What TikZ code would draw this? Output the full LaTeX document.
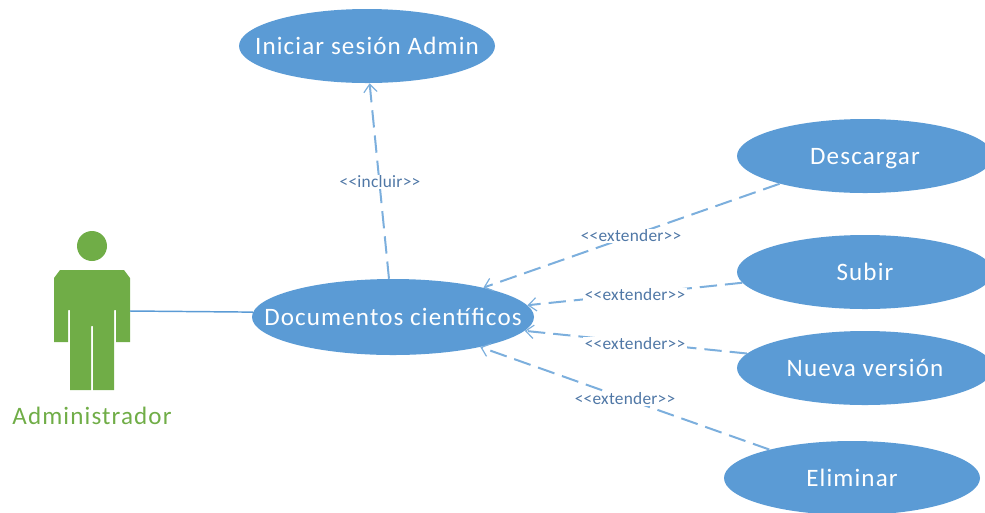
\documentclass[tikz,border=0pt]{standalone}
\usepackage{fontspec}
\setmainfont{Carlito}
\usetikzlibrary{shapes.geometric,arrows.meta}
\definecolor{ucblue}{HTML}{5B9BD5}
\definecolor{ucgreen}{HTML}{70AD47}
\definecolor{lblblue}{HTML}{4F77A6}
\newcommand{\uctext}[1]{\makebox[0pt]{\rule[-3.6pt]{0pt}{20.4pt}#1}}
\tikzset{
  usecase/.style={ellipse,fill=ucblue,text=white,inner sep=0pt,minimum width=192pt,minimum height=55.5pt,font=\fontsize{18.8}{20}\selectfont\addfontfeatures{LetterSpace=4.5}},
  stereo/.style={fill=white,text=lblblue,inner sep=1pt,font=\fontsize{13}{15}\selectfont\addfontfeatures{LetterSpace=1.5}},
  deplink/.style={draw=ucblue!80,line width=1.5pt,dash pattern=on 13pt off 6pt,-{Straight Barb[length=6pt,width=10pt,line width=0.9pt]}},
  assoc/.style={draw=ucblue,line width=1.1pt},
  actorfill/.style={fill=ucgreen,draw=none},
}
\begin{document}
\begin{tikzpicture}[x=0.75pt,y=-0.75pt]
\useasboundingbox (0,0) rectangle (985,512);
\begin{scope}
\clip (0,0) rectangle (985,512);
\node[usecase] (login) at (367,46) {\uctext{Iniciar sesión Admin}};
\node[usecase,minimum width=211.5pt,minimum height=57pt] (docs) at (393,317) {\uctext{Documentos cientí{}ficos}};
\node[usecase] (down) at (865,156) {\uctext{Descargar}};
\node[usecase] (up) at (865,272) {\uctext{Subir}};
\node[usecase] (newv) at (865,368) {\uctext{Nueva versión}};
\node[usecase] (del) at (852,478) {\uctext{Eliminar}};
\end{scope}
\fill[actorfill] (92,246) circle[radius=15*0.75pt];
\fill[actorfill] (60,270)--(124,270)--(130,278)--(130,342)--(116,342)--(116,310)--(114,310)--(114,390)--(93,390)--(93,326)--(91,326)--(91,390)--(70,390)--(70,310)--(68,310)--(68,342)--(54,342)--(54,278)--cycle;
\coordinate (hand) at (130,311);
\node[text=ucgreen,inner sep=0pt,font=\fontsize{18.8}{20}\selectfont\addfontfeatures{LetterSpace=4.5}] (admin) at (92,416) {Administrador};
\draw[assoc] (hand) -- (docs.178.8);
\draw[deplink] (docs.96.2) -- (login.-86.9);
\draw[deplink] (down.198.2) -- (docs.18.4);
\draw[deplink] (up.185.2) -- (docs.5.5);
\draw[deplink] (newv.173.8) -- (docs.-6.4);
\draw[deplink] (del.161.1) -- (docs.-19);
\node[stereo] (l0) at (380,182) {<{}<incluir>{}>};
\node[stereo] (l1) at (631,236) {<{}<extender>{}>};
\node[stereo] (l2) at (635,295) {<{}<extender>{}>};
\node[stereo] (l3) at (635,344) {<{}<extender>{}>};
\node[stereo] (l4) at (625,399) {<{}<extender>{}>};
\end{tikzpicture}
\end{document}
